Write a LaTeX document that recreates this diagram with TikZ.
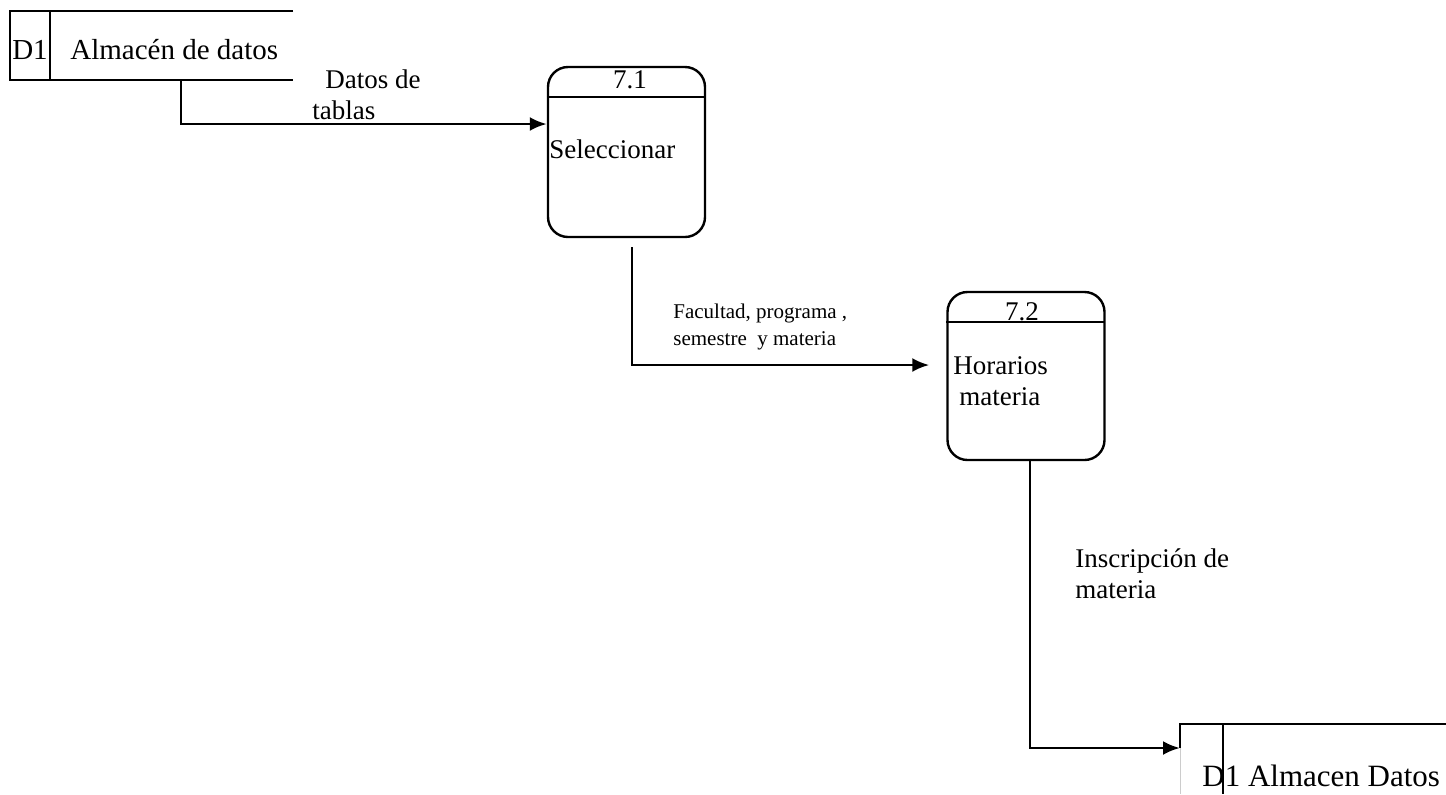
\documentclass[tikz,border=0pt]{standalone}
\usepackage{fontspec}
\setmainfont{Liberation Serif}
\usetikzlibrary{arrows.meta}

\tikzset{
  proc/.style={draw, line width=1.2pt, rounded corners=10pt, minimum width=78.5pt, minimum height=85pt, inner sep=0pt},
  flow/.style={line width=1.4pt, -{Latex[length=8.5pt,width=7pt]}},
  store/.style={line width=0.9pt},
  lbl/.style={font=\fontsize{13.5}{15.5}\selectfont, inner sep=0pt, align=left},
  smalllbl/.style={font=\fontsize{10.5}{13.5}\selectfont, inner sep=0pt, align=left}
}

\begin{document}
\begin{tikzpicture}[x=0.5pt, y=-0.5pt]
\useasboundingbox (0,0) rectangle (1446,794);

\draw[store] (293,11) -- (10,11) -- (10,80) -- (293,80);
\draw[store] (50,11) -- (50,80);
\node[lbl, font=\fontsize{14.5}{16}\selectfont, anchor=base] (d1) at (30,59) {D1};
\node[lbl, font=\fontsize{14.5}{16}\selectfont, anchor=base west] (s1) at (70,59) {Almacén de datos};
\coordinate (f1) at (181,80);

\node[proc] (p1) at (626.5,152) {};
\draw[line width=1.2pt] (p1.north west) ++(0,31) -- ++(157,0);
\node[lbl, anchor=base] (n1) at (630,88) {7.1};
\node[lbl, anchor=base west] (t1) at (549,158) {Seleccionar};
\coordinate (f2) at (632,247);

\node[proc, minimum height=84pt] (p2) at (1026,376) {};
\draw[line width=1.2pt] (p2.north west) ++(0,31) -- ++(158,0);
\node[lbl, anchor=base] (n2) at (1022,320) {7.2};
\node[lbl, anchor=base west] (t2) at (953,405) {Horarios\\\hspace*{3pt}materia};

\draw[store] (1446,724) -- (1180,724) -- (1180,748);
\draw[gray!40, line width=0.5pt] (1180,748) -- (1180,794);
\draw[store] (1223,724) -- (1223,794);
\node[font=\fontsize{15.5}{18}\selectfont, inner sep=0pt, anchor=base west] (s2) at (1202,786) {D1 Almacen Datos};
\coordinate (s2in) at (1180,748);

\draw[flow] (f1) |- ([yshift=14pt]p1.west);
\node[lbl, anchor=base west] (l1) at (312,119) {\hspace*{6.5pt}Datos de\\tablas};

\draw[flow] (f2) |- ([xshift=-8.5pt, yshift=5.5pt]p2.west);
\node[smalllbl, anchor=base west] (l2) at (673,345) {Facultad, programa ,\\semestre \ y materia};

\draw[flow] ([xshift=2pt]p2.south) |- (s2in);
\node[lbl, anchor=base west] (l3) at (1075,598) {Inscripción de\\materia};

\end{tikzpicture}
\end{document}
